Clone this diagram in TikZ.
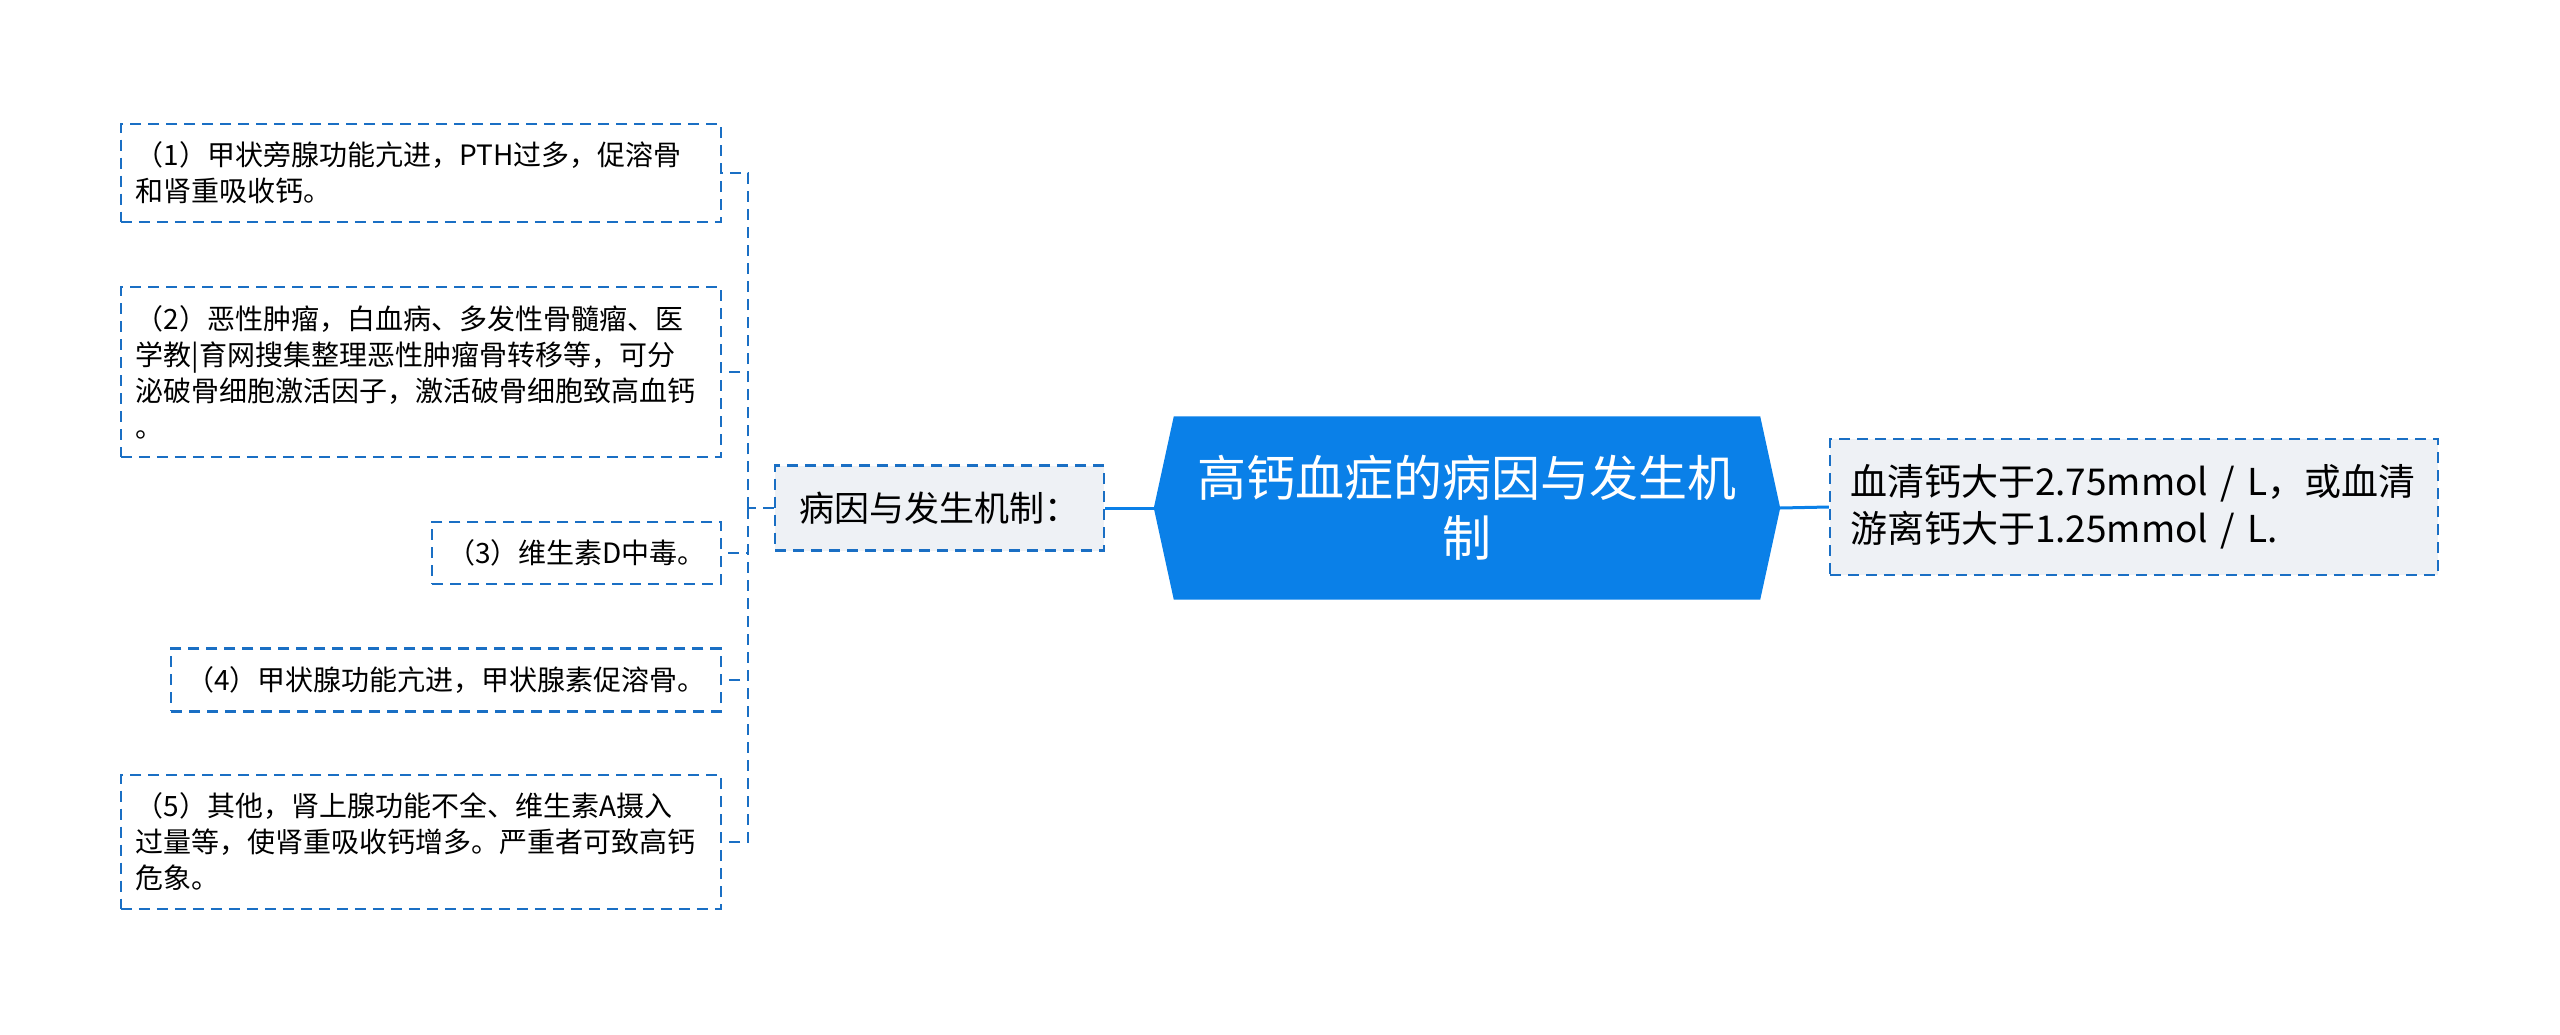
\documentclass[tikz,border=0pt]{standalone}
\usepackage{fontspec}
\setmainfont{Noto Sans CJK SC}
\usetikzlibrary{backgrounds}
\definecolor{hexblue}{HTML}{0A80E8}
\definecolor{dashblue}{HTML}{1A6FC4}
\definecolor{boxgray}{HTML}{EEF1F5}
\begin{document}
\begin{tikzpicture}[x=1pt,y=-1pt,
  leaf/.style={draw=dashblue,line width=2.2pt,dash pattern=on 11pt off 7pt,fill=white,
    inner xsep=15pt,inner ysep=18pt,align=left,anchor=east,
    font=\fontsize{28}{36}\selectfont},
  branch/.style={draw=dashblue,line width=2.2pt,dash pattern=on 11pt off 7pt,fill=boxgray,
    inner xsep=18pt,minimum width=329pt,minimum height=85pt,align=left,
    font=\fontsize{35}{44}\selectfont},
  centre/.style={text=white,align=center,minimum width=626pt,minimum height=183pt,
    font=\fontsize{49}{60}\selectfont},
  mainline/.style={hexblue,line width=3pt},
  subline/.style={dashblue,line width=2.2pt,dash pattern=on 11pt off 7pt}]
\useasboundingbox (0,0) rectangle (2560,1035);

\node[centre] (centre) at (1467,508) {高钙血症的病因与发生机\\制};
\begin{scope}[on background layer]
\fill[white] (0,0) rectangle (2560,1035);
\fill[hexblue] ([xshift=20pt]centre.north west) -- ([xshift=-20pt]centre.north east) -- (centre.east)
  -- ([xshift=-20pt]centre.south east) -- ([xshift=20pt]centre.south west) -- (centre.west) -- cycle;
\end{scope}

\node[branch] (branch) at (939.5,508) {病因与发生机制：};
\node[branch,inner xsep=20pt,text width=568pt,minimum height=136pt,
  font=\fontsize{37}{47}\selectfont] (serum) at (2134,507)
  {血清钙大于2.75mmol / L，或血清\\游离钙大于1.25mmol / L.};

% cac nhanh ben trai
\node[leaf,text width=570pt] (leaf1) at (722,173) {（1）甲状旁腺功能亢进，PTH过多，促溶骨\\和肾重吸收钙。};
\node[leaf,text width=570pt] (leaf2) at (722,372) {（2）恶性肿瘤，白血病、多发性骨髓瘤、医\\学教|育网搜集整理恶性肿瘤骨转移等，可分\\泌破骨细胞激活因子，激活破骨细胞致高血钙\\。};
\node[leaf] (leaf3) at (722,553) {（3）维生素D中毒。};
\node[leaf] (leaf4) at (722,680) {（4）甲状腺功能亢进，甲状腺素促溶骨。};
\node[leaf,text width=570pt] (leaf5) at (722,842) {（5）其他，肾上腺功能不全、维生素A摄入\\过量等，使肾重吸收钙增多。严重者可致高钙\\危象。};

\draw[mainline] (branch.east) -- (centre.west);
\draw[mainline] (centre.east) -- (serum.west);
\coordinate (fork) at (748,508);
\draw[subline] (branch.west) -- (fork);
\foreach \i in {1,...,5}
  \draw[subline] (fork) |- (leaf\i.east);
\end{tikzpicture}
\end{document}
